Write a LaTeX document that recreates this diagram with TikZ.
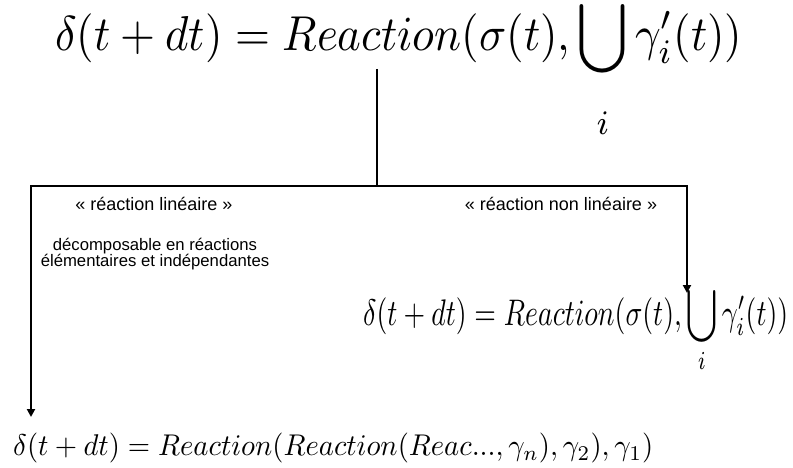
\documentclass[tikz,border=0pt]{standalone}
\usepackage{fontspec}
\setsansfont{Liberation Sans}
\usetikzlibrary{arrows.meta}
\newcommand{\fitformula}[3]{\resizebox*{#1}{#2}{$\smash{#3}\vphantom{(}$}}
\begin{document}
\begin{tikzpicture}[x=1pt,y=-1pt,
  conn/.style={line width=2.5pt, line join=miter},
  bothtips/.style={{Triangle[length=8pt,width=8pt]}-{Triangle[length=8pt,width=8pt]}},
  formula/.style={inner sep=0pt, anchor=north west},
  lbl/.style={font=\sffamily\fontsize{18}{20}\selectfont, inner sep=0pt, align=center},
  desc/.style={font=\sffamily\fontsize{16.7}{16}\selectfont, inner sep=0pt, align=center}]
\useasboundingbox (0,0) rectangle (793,468);
\node[formula] (top) at (55,14)
  {\fitformula{687pt}{49pt}{\displaystyle \delta(t+dt) = Reaction(\sigma(t),\bigcup_{\raisebox{-5.5pt}{$\scriptstyle i$}} \gamma'_i(t))}};
\node[formula] (mid) at (363,298)
  {\fitformula{425pt}{37pt}{\displaystyle \delta(t+dt) = Reaction(\sigma(t),\bigcup_i \gamma'_i(t))}};
\node[formula] (bot) at (13,433)
  {\fitformula{640pt}{30pt}{\delta(t+dt) = Reaction(Reaction(Reac...,\gamma_n),\gamma_2),\gamma_1)}};
\coordinate (t0) at (377,69);
\coordinate (j) at (377,186);
\coordinate (L) at (31,186);
\coordinate (R) at (687,186);
\coordinate (Rt) at (687,293);
\coordinate (Lt) at (31,417);
\draw[conn] (t0) -- (j);
\draw[conn, bothtips] (Rt) -- (R) -- (L) -- (Lt);
\node[lbl] (lin) at (154,204) {« réaction linéaire »};
\node[desc] (dec) at (155,254) {décomposable en réactions\\élémentaires et indépendantes};
\node[lbl] (nlin) at (561,204) {« réaction non linéaire »};
\end{tikzpicture}
\end{document}
